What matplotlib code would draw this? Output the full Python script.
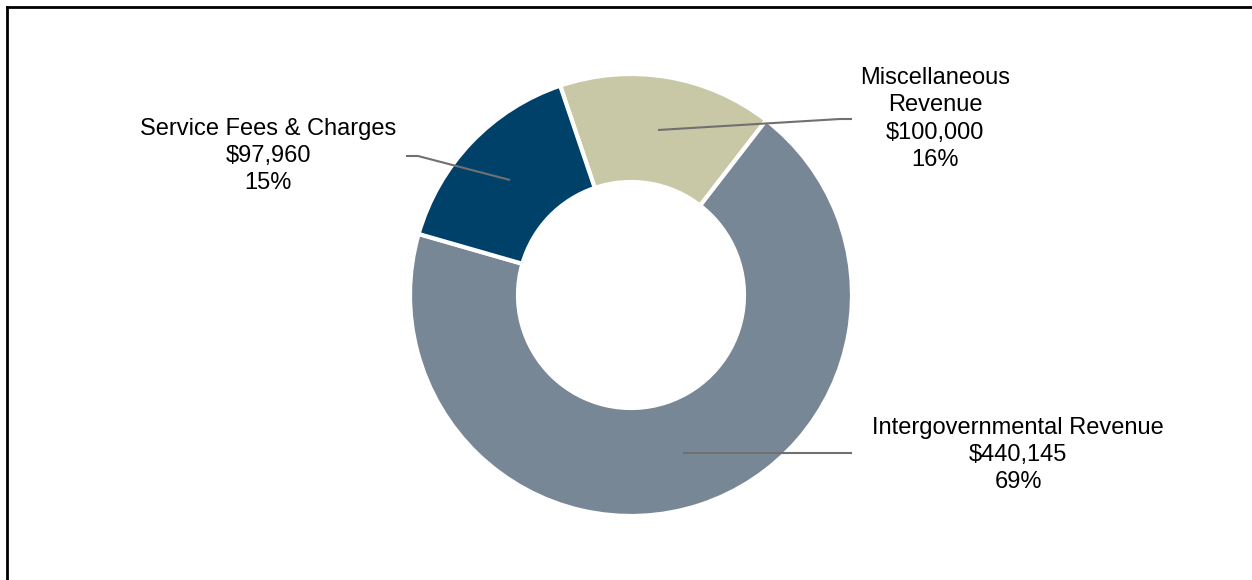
import numpy as np
import matplotlib.pyplot as plt

plt.rcParams['font.family'] = ['Liberation Sans', 'DejaVu Sans']

categories = ['Miscellaneous\nRevenue', 'Intergovernmental Revenue', 'Service Fees & Charges']
values = [100000, 440145, 97960]
colors = ['#C8C8A7', '#778795', '#00416A']

W, H = 1252, 580
fig = plt.figure(figsize=(W / 100, H / 100), dpi=100)
ax = fig.add_axes([0, 0, 1, 1])

cx, cy = 631, H - 295
R = 221
total = sum(values)

wedges, _ = ax.pie(values, colors=colors, startangle=108.7, counterclock=False,
                   center=(cx, cy), radius=R, frame=True,
                   wedgeprops=dict(width=108, edgecolor='white', linewidth=3))
ax.set_xlim(0, W)
ax.set_ylim(0, H)
ax.set_aspect('equal')
ax.axis('off')

# label centres and leader line points (pixel coords from top-left)
label_pos = [(935, 119), (1018, 455), (268, 156)]
leader_pts = [
    [(658, 130), (840, 119), (852, 119)],
    [(683, 453), (852, 453)],
    [(510, 180), (418, 156), (406, 156)],
]

for name, v, (tx, ty), pts in zip(categories, values, label_pos, leader_pts):
    pct = round(v / total * 100)
    txt = f"{name}\n${v:,.0f}\n{pct}%"
    ax.text(tx, H - ty, txt, ha='center', va='center', fontsize=17,
            linespacing=1.31, color='black')
    xs = [p[0] for p in pts]
    ys = [H - p[1] for p in pts]
    ax.plot(xs, ys, color='#707070', lw=1.5, solid_capstyle='butt')

# frame border (left and top)
ax.plot([6.5, 6.5], [0, H - 6.5], color='black', lw=2, clip_on=False)
ax.plot([6.5, W], [H - 6.5, H - 6.5], color='black', lw=2, clip_on=False)

fig.savefig('out.png', dpi=100)
